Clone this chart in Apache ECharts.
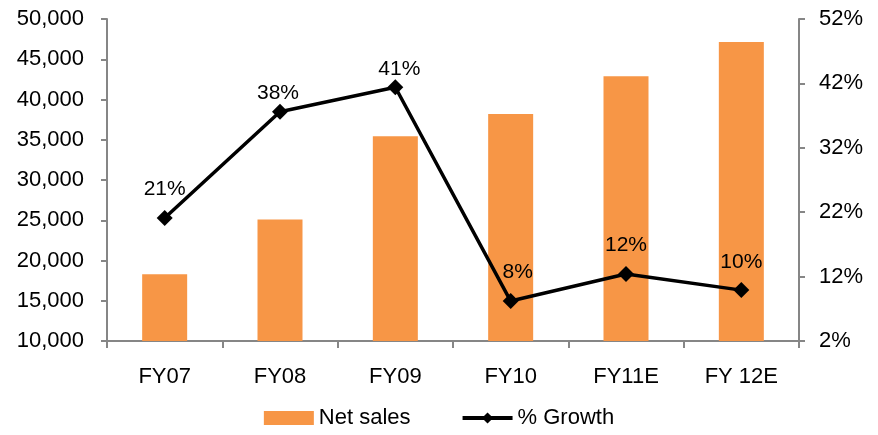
<!DOCTYPE html>
<html>
<head>
<meta charset="utf-8">
<script src="https://cdn.jsdelivr.net/npm/echarts@6/dist/echarts.min.js"></script>
<style>html,body{margin:0;padding:0;background:#fff}#c{width:878px;height:435px}</style>
</head>
<body>
<div id="c"></div>
<script>
const categories = ['FY07', 'FY08', 'FY09', 'FY10', 'FY11E', 'FY 12E'];
const netSales = [18300, 25100, 35450, 38200, 42900, 47150];
const growth = [21.1, 37.6, 41.4, 8.2, 12.4, 9.9];
const leftTicks = [10000, 15000, 20000, 25000, 30000, 35000, 40000, 45000, 50000];
const rightTicks = [2, 12, 22, 32, 42, 52];

const labelLift = [10, 0, 0, 10, 10, 9];
const labelShift = [0, -2, 4, 7, 0, 0];
const FONT = 'Liberation Sans, Arial, sans-serif';
const AXIS = '#868686';

const chart = echarts.init(document.getElementById('c'), null, {renderer: 'canvas'});
chart.setOption({
  animation: false,
  textStyle: {fontFamily: FONT},
  grid: {left: 107, right: 79, top: 19, bottom: 94, containLabel: false},
  legend: {
    bottom: 1,
    left: 'center',
    itemWidth: 50,
    itemHeight: 14,
    itemGap: 50,
    textStyle: {fontFamily: FONT, fontSize: 22, color: '#000'},
    data: [
      {name: 'Net sales', icon: 'rect'},
      {name: '% Growth', lineStyle: {width: 4, color: '#000'}}
    ]
  },
  xAxis: {
    type: 'category',
    data: categories,
    boundaryGap: true,
    axisLine: {lineStyle: {color: AXIS, width: 2}},
    axisTick: {show: true, length: 7, lineStyle: {color: AXIS, width: 2}},
    axisLabel: {fontFamily: FONT, fontSize: 22, color: '#000', margin: 25}
  },
  yAxis: [
    {
      type: 'value',
      min: leftTicks[0],
      max: leftTicks[leftTicks.length - 1],
      interval: 5000,
      splitLine: {show: false},
      axisLine: {show: true, lineStyle: {color: AXIS, width: 2}},
      axisTick: {show: true, length: 6, lineStyle: {color: AXIS, width: 2}},
      axisLabel: {
        fontFamily: FONT, fontSize: 22, color: '#000', margin: 23,
        formatter: v => v.toLocaleString('en-US')
      }
    },
    {
      type: 'value',
      position: 'right',
      min: rightTicks[0],
      max: rightTicks[rightTicks.length - 1],
      splitLine: {show: false},
      axisLine: {show: true, lineStyle: {color: AXIS, width: 2}},
      axisTick: {show: true, length: 6, customValues: rightTicks, lineStyle: {color: AXIS, width: 2}},
      axisLabel: {
        fontFamily: FONT, fontSize: 22, color: '#000', margin: 20,
        customValues: rightTicks,
        formatter: v => v + '%'
      }
    }
  ],
  series: [
    {
      name: 'Net sales',
      type: 'bar',
      data: netSales,
      barWidth: 45,
      itemStyle: {color: '#F79646'},
      z: 1
    },
    {
      name: '% Growth',
      type: 'line',
      yAxisIndex: 1,
      data: growth.map((v, i) => ({
        value: v,
        label: {distance: labelLift[i], offset: [labelShift[i], 0]}
      })),
      symbol: 'diamond',
      symbolSize: 16,
      lineStyle: {color: '#000', width: 3.5},
      itemStyle: {color: '#000'},
      label: {
        show: true,
        position: 'top',
        fontFamily: FONT,
        fontSize: 21,
        color: '#000',
        formatter: p => Math.round(p.value) + '%'
      },
      z: 3
    }
  ]
});
</script>
</body>
</html>
